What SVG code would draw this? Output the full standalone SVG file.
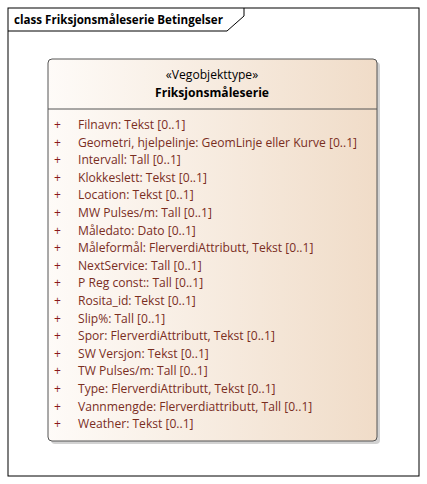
<svg xmlns="http://www.w3.org/2000/svg" width="427" height="484" viewBox="0 0 427 484">
<defs>
<linearGradient id="g" x1="0" y1="0" x2="1" y2="0">
<stop offset="0" stop-color="#FEFBF8"/>
<stop offset="1" stop-color="#F0DCC8"/>
</linearGradient>
</defs>
<style>
text{font-family:"Open Sans","Noto Sans","Liberation Sans",sans-serif;font-size:12.1px}
.t{font-weight:bold;fill:#000;font-size:11.6px}
.s{fill:#000;text-anchor:middle}
.n{fill:#000;text-anchor:middle;font-weight:bold}
.a{fill:#7A2E1F}
.p{fill:#8B1A1A}
</style>
<rect width="427" height="484" fill="#fff"/>
<g id="frame">
<rect x="8" y="8" width="411" height="468" fill="none" stroke="#000" stroke-width="1"/>
<path d="M8,31 L227,31 L244,16 L244,8" fill="none" stroke="#000" stroke-width="1"/>
<text class="t" x="14" y="24">class Friksjonsmåleserie Betingelser</text>
</g>
<g id="Friksjonsmaleserie">
<rect x="51" y="62" width="329" height="382" rx="4" fill="#BFBFBF" opacity="0.7"/>
<rect x="48" y="59" width="329" height="382" rx="4" fill="url(#g)" stroke="#555" stroke-width="1"/>
<line x1="48" y1="109" x2="377" y2="109" stroke="#555" stroke-width="1"/>
<text class="s" x="212" y="79">«Vegobjekttype»</text>
<text class="n" x="212" y="97">Friksjonsmåleserie</text>
<g class="p">
<text class="p" x="54" y="129">+</text>
<text class="p" x="54" y="146.6">+</text>
<text class="p" x="54" y="164.2">+</text>
<text class="p" x="54" y="181.8">+</text>
<text class="p" x="54" y="199.4">+</text>
<text class="p" x="54" y="217">+</text>
<text class="p" x="54" y="234.6">+</text>
<text class="p" x="54" y="252.2">+</text>
<text class="p" x="54" y="269.8">+</text>
<text class="p" x="54" y="287.4">+</text>
<text class="p" x="54" y="305">+</text>
<text class="p" x="54" y="322.6">+</text>
<text class="p" x="54" y="340.2">+</text>
<text class="p" x="54" y="357.8">+</text>
<text class="p" x="54" y="375.4">+</text>
<text class="p" x="54" y="393">+</text>
<text class="p" x="54" y="410.6">+</text>
<text class="p" x="54" y="428.2">+</text>
</g>
<text class="a" x="78" y="129">Filnavn: Tekst [0..1]</text>
<text class="a" x="78" y="146.6">Geometri, hjelpelinje: GeomLinje eller Kurve [0..1]</text>
<text class="a" x="78" y="164.2">Intervall: Tall [0..1]</text>
<text class="a" x="78" y="181.8">Klokkeslett: Tekst [0..1]</text>
<text class="a" x="78" y="199.4">Location: Tekst [0..1]</text>
<text class="a" x="78" y="217">MW Pulses/m: Tall [0..1]</text>
<text class="a" x="78" y="234.6">Måledato: Dato [0..1]</text>
<text class="a" x="78" y="252.2">Måleformål: FlerverdiAttributt, Tekst [0..1]</text>
<text class="a" x="78" y="269.8">NextService: Tall [0..1]</text>
<text class="a" x="78" y="287.4">P Reg const:: Tall [0..1]</text>
<text class="a" x="78" y="305">Rosita_id: Tekst [0..1]</text>
<text class="a" x="78" y="322.6">Slip%: Tall [0..1]</text>
<text class="a" x="78" y="340.2">Spor: FlerverdiAttributt, Tekst [0..1]</text>
<text class="a" x="78" y="357.8">SW Versjon: Tekst [0..1]</text>
<text class="a" x="78" y="375.4">TW Pulses/m: Tall [0..1]</text>
<text class="a" x="78" y="393">Type: FlerverdiAttributt, Tekst [0..1]</text>
<text class="a" x="78" y="410.6">Vannmengde: Flerverdiattributt, Tall [0..1]</text>
<text class="a" x="78" y="428.2">Weather: Tekst [0..1]</text>
</g>
</svg>
